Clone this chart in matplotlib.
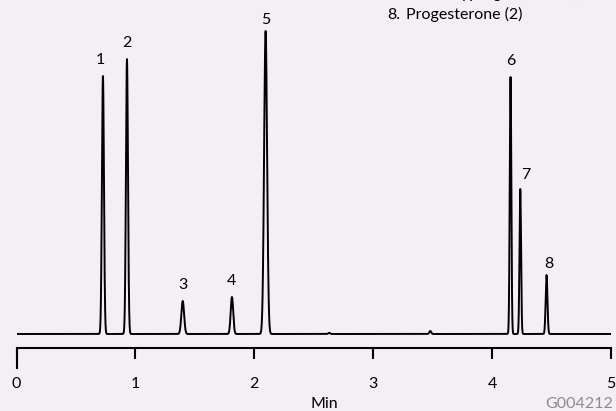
import numpy as np
import matplotlib
matplotlib.use("Agg")
import matplotlib.pyplot as plt

plt.rcParams['font.family'] = ['Lato', 'DejaVu Sans']

# peak table: retention time (min), height above baseline, width (sigma, min)
peak_ids = ["1", "2", "3", "4", "5", "6", "7", "8"]
peak_rt = [0.727, 0.929, 1.398, 1.812, 2.095, 4.155, 4.237, 4.458]
peak_height = [258, 275, 33, 37, 303, 257, 145, 59]
peak_sigma = [0.0085, 0.0085, 0.0115, 0.0105, 0.0125, 0.0065, 0.0065, 0.0075]

# small unlabelled baseline blips
blip_rt = [2.63, 3.48]
blip_height = [1.2, 3.0]
blip_sigma = [0.008, 0.008]

legend_last = [("7.", "Medroxyprogesterone (2)"), ("8.", "Progesterone (2)")]

x_ticks = [0, 1, 2, 3, 4, 5]

BG = '#f3eff5'


def trace(t):
    y = np.zeros_like(t)
    for rt, h, s in zip(peak_rt + blip_rt, peak_height + blip_height,
                        peak_sigma + blip_sigma):
        y += h * np.exp(-0.5 * ((t - rt) / s) ** 2)
    return y


t = np.linspace(0, 5, 8001)
signal = trace(t)

fig = plt.figure(figsize=(6.16, 4.11), dpi=100, facecolor=BG)
ax = fig.add_axes([16.5 / 616, 63 / 411, (611 - 16.5) / 616, 348 / 411])
ax.set_facecolor(BG)
ax.plot(t, signal, color='black', lw=1.4, solid_joinstyle='round')

ax.set_xlim(0, 5)
ax.set_ylim(-14, 334)
for side in ['left', 'right', 'top']:
    ax.spines[side].set_visible(False)
ax.spines['bottom'].set_linewidth(1.5)
ax.set_yticks([])

ax.set_xticks(x_ticks)
ax.set_xticklabels([str(v) for v in x_ticks])
ax.tick_params(axis='x', which='major', direction='out', length=8, width=1.5,
               pad=13, labelsize=11.5, colors='black')
# longer start tick at 0
ax.xaxis.remove_overlapping_locs = False
ax.set_xticks([0], minor=True)
ax.tick_params(axis='x', which='minor', direction='out', length=15, width=1.5)

# peak numbers above each peak
label_dx = {"1": -3, "7": 5, "8": 2}
label_dy = {"5": 11, "8": 11, "7": 14}
for pid, rt, h in zip(peak_ids, peak_rt, peak_height):
    dx = label_dx.get(pid, 0) * 0.72
    dy = label_dy.get(pid, 16) * 0.72
    ax.annotate(pid, (rt, h), xytext=(dx, dy), textcoords='offset points',
                ha='center', va='center', fontsize=11.5, annotation_clip=False)

fig.text(324.5 / 616, (411 - 397) / 411, "Min", ha='center', va='top',
         fontsize=11.5)
fig.text(613 / 616, (411 - 397) / 411, "G004212", ha='right', va='top',
         fontsize=11.5, color='#8c8c8c')

# tail of the compound list (earlier entries run off the top)
line_gap = 21
for i, (num, name) in enumerate(legend_last):
    y_px = 19 - line_gap * (len(legend_last) - 1 - i)
    yb = (411 - y_px) / 411
    fig.text(387 / 616, yb, num, ha='left', va='baseline', fontsize=11.5)
    fig.text(406 / 616, yb, name, ha='left', va='baseline', fontsize=11.5)

fig.savefig('out.png', dpi=100, facecolor=BG)
